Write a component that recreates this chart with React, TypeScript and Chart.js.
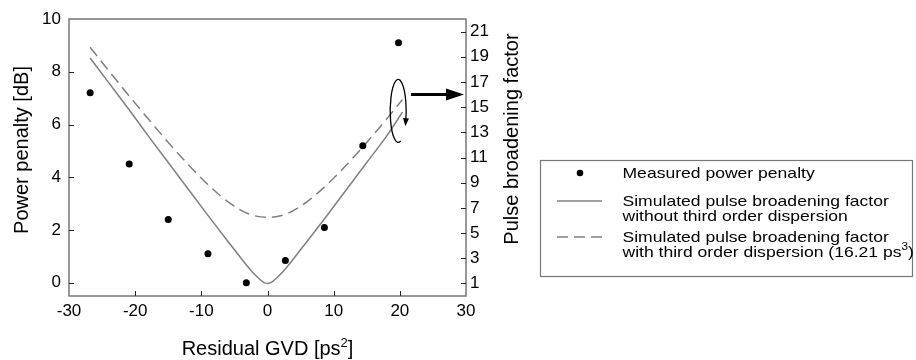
import React, { useEffect, useRef } from 'react';
import { Chart, registerables } from 'chart.js';

Chart.register(...registerables);

// ---- data ----
const gvdMeasured = [-26.8, -20.9, -15.0, -9.0, -3.2, 2.7, 8.6, 14.4, 19.8];
const penaltyMeasured = [7.2, 4.5, 2.4, 1.1, 0.0, 0.85, 2.1, 5.2, 9.1];

const gvdSimNoTOD = [-26.8, -24, -21, -18, -15, -12, -9, -6, -4, -3, -2, -1, -0.5, 0, 0.5, 1, 2, 3, 4, 6, 9, 12, 15, 18, 20.4];
const broadeningNoTOD = [18.9, 16.95, 14.85, 12.7, 10.6, 8.5, 6.4, 4.35, 3.0, 2.35, 1.75, 1.25, 1.06, 1.0, 1.06, 1.25, 1.75, 2.35, 3.0, 4.35, 6.4, 8.5, 10.6, 12.7, 14.6];

const gvdSimTOD = [-26.8, -24, -21, -18, -15, -12, -9, -6, -3, 0, 3, 6, 9, 12, 15, 18, 20.4];
const broadeningTOD = [19.75, 17.9, 15.95, 14.05, 12.2, 10.45, 8.85, 7.5, 6.55, 6.25, 6.55, 7.5, 8.85, 10.45, 12.2, 14.05, 15.6];

const xTicks = [-30, -20, -10, 0, 10, 20, 30];
const leftTicks = [0, 2, 4, 6, 8, 10];
const rightTicks = [1, 3, 5, 7, 9, 11, 13, 15, 17, 19, 21];

const xTitle = 'Residual GVD [ps';
const xTitleSup = '2';
const yTitle = 'Power penalty [dB]';
const y2Title = 'Pulse broadening factor';
const legendLabels = [
  ['Measured power penalty'],
  ['Simulated pulse broadening factor', 'without third order dispersion'],
  ['Simulated pulse broadening factor', 'with third order dispersion (16.21 ps'],
];

// annotation anchors in data units
const loopCenter = { x: 19.75, y2: 14.7 };
const arrowStart = { x: 21.7, y2: 16.0 };

const FONT = "'Liberation Sans', Arial, Helvetica, sans-serif";

function drawArrowHead(ctx: CanvasRenderingContext2D, x: number, y: number, ang: number, len: number, half: number) {
  ctx.beginPath();
  ctx.moveTo(x, y);
  ctx.lineTo(x - len * Math.cos(ang) + half * Math.sin(ang), y - len * Math.sin(ang) - half * Math.cos(ang));
  ctx.lineTo(x - len * Math.cos(ang) - half * Math.sin(ang), y - len * Math.sin(ang) + half * Math.cos(ang));
  ctx.closePath();
  ctx.fill();
}

function stretchedText(ctx: CanvasRenderingContext2D, text: string, x: number, y: number, sx: number) {
  ctx.save();
  ctx.translate(x, y);
  ctx.scale(sx, 1);
  ctx.fillText(text, 0, 0);
  const w = ctx.measureText(text).width * sx;
  ctx.restore();
  return w;
}

const decorPlugin = {
  id: 'decor',
  afterDraw(chart: any) {
    const { ctx, chartArea: a, scales } = chart;
    const sx = scales.x, sy = scales.y, sy2 = scales.y2;
    ctx.save();

    // frame
    ctx.strokeStyle = '#777';
    ctx.lineWidth = 1.5;
    ctx.strokeRect(a.left, a.top, a.right - a.left, a.bottom - a.top);

    // inward ticks
    ctx.strokeStyle = '#222';
    ctx.lineWidth = 1;
    ctx.beginPath();
    xTicks.forEach((v) => {
      if (v === -30 || v === 30) return;
      const px = Math.round(sx.getPixelForValue(v)) + 0.5;
      ctx.moveTo(px, a.bottom);
      ctx.lineTo(px, a.bottom - 5);
    });
    leftTicks.forEach((v) => {
      if (v === 10) return;
      const py = Math.round(sy.getPixelForValue(v)) + 0.5;
      ctx.moveTo(a.left, py);
      ctx.lineTo(a.left + 5, py);
    });
    rightTicks.forEach((v) => {
      const py = Math.round(sy2.getPixelForValue(v)) + 0.5;
      ctx.moveTo(a.right, py);
      ctx.lineTo(a.right - 5, py);
    });
    ctx.stroke();

    // axis titles
    ctx.fillStyle = '#000';
    ctx.font = `20px ${FONT}`;
    ctx.textBaseline = 'alphabetic';
    // left
    ctx.save();
    ctx.translate(28, 150);
    ctx.rotate(-Math.PI / 2);
    ctx.textAlign = 'center';
    ctx.fillText(yTitle, 0, 0);
    ctx.restore();
    // right
    ctx.save();
    ctx.translate(a.right + 52, 139);
    ctx.rotate(-Math.PI / 2);
    ctx.textAlign = 'center';
    ctx.fillText(y2Title, 0, 0);
    ctx.restore();
    // bottom with superscript
    {
      ctx.font = `20px ${FONT}`;
      const w1 = ctx.measureText(xTitle).width;
      ctx.font = `13px ${FONT}`;
      const w2 = ctx.measureText(xTitleSup).width;
      ctx.font = `20px ${FONT}`;
      const w3 = ctx.measureText(']').width;
      const cx = (a.left + a.right) / 2;
      const x0 = cx - (w1 + w2 + w3) / 2;
      const base = 355;
      ctx.textAlign = 'left';
      ctx.fillText(xTitle, x0, base);
      ctx.font = `13px ${FONT}`;
      ctx.fillText(xTitleSup, x0 + w1, base - 8);
      ctx.font = `20px ${FONT}`;
      ctx.fillText(']', x0 + w1 + w2, base);
    }

    // loop annotation
    const lcx = sx.getPixelForValue(loopCenter.x);
    const lcy = sy2.getPixelForValue(loopCenter.y2);
    const rx = 8, ry = 31.5;
    const t0 = 1.25, t1 = Math.PI * 2 + 0.3;
    ctx.strokeStyle = '#000';
    ctx.fillStyle = '#000';
    ctx.lineWidth = 1.3;
    ctx.beginPath();
    ctx.ellipse(lcx, lcy, rx, ry, 0, t0, t1, false);
    ctx.stroke();
    {
      const ex = lcx + rx * Math.cos(t1);
      const ey = lcy + ry * Math.sin(t1);
      const dx = -rx * Math.sin(t1), dy = ry * Math.cos(t1);
      const ang = Math.atan2(dy, dx);
      drawArrowHead(ctx, ex + 6 * Math.cos(ang), ey + 6 * Math.sin(ang), ang, 8, 3);
    }
    // thick arrow to right axis
    {
      const ax0 = sx.getPixelForValue(arrowStart.x);
      const ay = sy2.getPixelForValue(arrowStart.y2);
      const ax1 = a.right - 2;
      ctx.lineWidth = 3;
      ctx.beginPath();
      ctx.moveTo(ax0, ay);
      ctx.lineTo(ax1 - 14, ay);
      ctx.stroke();
      drawArrowHead(ctx, ax1, ay, 0, 18, 6);
    }

    // legend
    const L = { left: 540.5, top: 160.5, right: 912.5, bottom: 276.5 };
    ctx.strokeStyle = '#777';
    ctx.lineWidth = 1.2;
    ctx.strokeRect(L.left, L.top, L.right - L.left, L.bottom - L.top);
    const tx = 622.5;
    const stretch = 1.17;
    ctx.font = `15px ${FONT}`;
    ctx.fillStyle = '#000';
    ctx.textAlign = 'left';
    ctx.textBaseline = 'alphabetic';
    // entry 1
    ctx.beginPath();
    ctx.arc(580, 173, 3.3, 0, Math.PI * 2);
    ctx.fill();
    stretchedText(ctx, legendLabels[0][0], tx, 177.5, stretch);
    // entry 2
    ctx.strokeStyle = '#808080';
    ctx.lineWidth = 1.5;
    ctx.beginPath();
    ctx.moveTo(557, 201);
    ctx.lineTo(602, 201);
    ctx.stroke();
    stretchedText(ctx, legendLabels[1][0], tx, 205.5, stretch);
    stretchedText(ctx, legendLabels[1][1], tx, 220.5, stretch);
    // entry 3
    ctx.setLineDash([11, 6]);
    ctx.beginPath();
    ctx.moveTo(557, 237);
    ctx.lineTo(602, 237);
    ctx.stroke();
    ctx.setLineDash([]);
    stretchedText(ctx, legendLabels[2][0], tx, 241.5, stretch);
    const w = stretchedText(ctx, legendLabels[2][1], tx, 256.5, stretch);
    ctx.font = `10px ${FONT}`;
    const ws = stretchedText(ctx, '3', tx + w, 250, stretch);
    ctx.font = `15px ${FONT}`;
    stretchedText(ctx, ')', tx + w + ws, 256.5, stretch);

    ctx.restore();
  },
};

export default function App() {
  const ref = useRef<HTMLCanvasElement | null>(null);
  useEffect(() => {
    if (!ref.current) return;
    const tickFont = { family: FONT, size: 17 };
    const chart = new Chart(ref.current, {
      type: 'scatter',
      data: {
        datasets: [
          {
            label: 'Measured power penalty',
            data: gvdMeasured.map((x, i) => ({ x, y: penaltyMeasured[i] })),
            yAxisID: 'y',
            backgroundColor: '#000',
            borderColor: '#000',
            pointRadius: 3.5,
            pointBorderWidth: 0,
            showLine: false,
          },
          {
            label: 'Simulated pulse broadening factor without third order dispersion',
            type: 'line',
            data: gvdSimNoTOD.map((x, i) => ({ x, y: broadeningNoTOD[i] })),
            yAxisID: 'y2',
            borderColor: '#808080',
            borderWidth: 1.5,
            pointRadius: 0,
            fill: false,
            cubicInterpolationMode: 'monotone',
          },
          {
            label: 'Simulated pulse broadening factor with third order dispersion (16.21 ps3)',
            type: 'line',
            data: gvdSimTOD.map((x, i) => ({ x, y: broadeningTOD[i] })),
            yAxisID: 'y2',
            borderColor: '#808080',
            borderWidth: 1.5,
            borderDash: [11, 6],
            pointRadius: 0,
            fill: false,
            cubicInterpolationMode: 'monotone',
          },
        ],
      } as any,
      options: {
        responsive: false,
        animation: false,
        devicePixelRatio: 1,
        layout: { padding: { top: 19, left: 0, right: 0, bottom: 0 } },
        plugins: { legend: { display: false }, tooltip: { enabled: false } },
        scales: {
          x: {
            type: 'linear',
            position: 'bottom',
            min: -30,
            max: 30,
            afterBuildTicks: (s: any) => { s.ticks = xTicks.map((v) => ({ value: v })); },
            afterFit: (s: any) => { s.height = 64; },
            grid: { display: false, drawTicks: false },
            border: { display: false },
            ticks: { padding: 5, color: '#000', font: tickFont, autoSkip: false, maxRotation: 0 },
          },
          y: {
            type: 'linear',
            position: 'left',
            min: -0.5,
            max: 10,
            afterBuildTicks: (s: any) => { s.ticks = leftTicks.map((v) => ({ value: v })); },
            afterFit: (s: any) => { s.width = 69; },
            grid: { display: false, drawTicks: false },
            border: { display: false },
            ticks: { padding: 8, color: '#000', font: tickFont, autoSkip: false },
          },
          y2: {
            type: 'linear',
            position: 'right',
            min: 0,
            max: 22,
            afterBuildTicks: (s: any) => { s.ticks = rightTicks.map((v) => ({ value: v })); },
            afterFit: (s: any) => { s.width = 450; },
            grid: { display: false, drawTicks: false },
            border: { display: false },
            ticks: { padding: 4, color: '#000', font: tickFont, autoSkip: false },
          },
        },
      } as any,
      plugins: [decorPlugin],
    });
    return () => chart.destroy();
  }, []);
  return (
    <div style={{ position: 'fixed', left: 0, top: 0, width: 916, height: 360, background: '#fff' }}>
      <canvas ref={ref} width={916} height={360} style={{ width: 916, height: 360, display: 'block' }} />
    </div>
  );
}
